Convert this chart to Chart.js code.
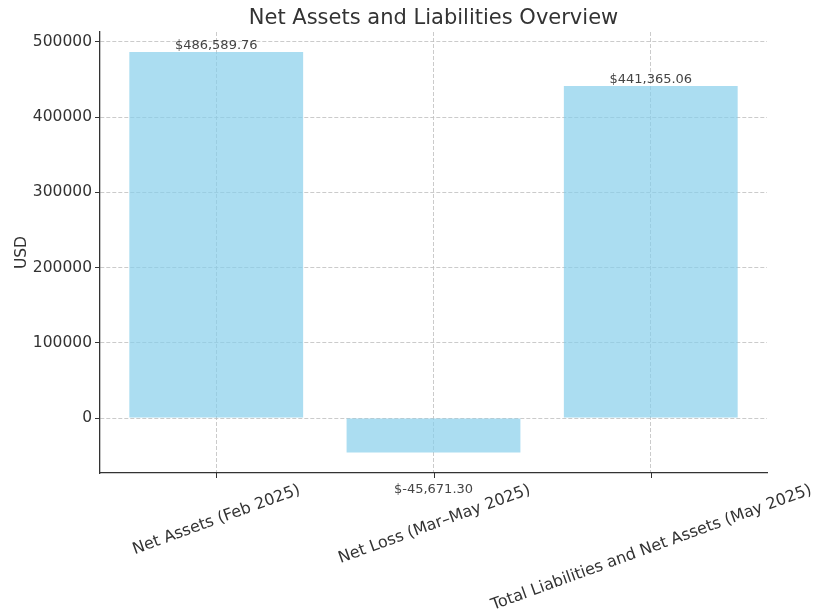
<!DOCTYPE html>
<html lang="en">
<head>
  <meta charset="UTF-8" />
  <title>Net Assets and Liabilities Overview</title>
  <script src="https://cdn.jsdelivr.net/npm/chart.js"></script>
  <style>
    html, body { margin: 0; padding: 0; background: #fff; }
    #wrap { width: 814px; height: 609px; }
  </style>
</head>
<body>
  <div id="wrap"><canvas id="chart" width="814" height="609"></canvas></div>

  <script>
    // Data
    const categories = ['Net Assets (Feb 2025)', 'Net Loss (Mar\u2013May 2025)', 'Total Liabilities and Net Assets (May 2025)'];
    const values = [486589.76, -45671.30, 441365.06];
    const yTicks = [0, 100000, 200000, 300000, 400000, 500000];

    const FONT = '"DejaVu Sans", sans-serif';
    const TEXT = '#333';

    const fmt = v => '$' + v.toLocaleString('en-US', { minimumFractionDigits: 2, maximumFractionDigits: 2 });

    // title, value labels, x tick marks and rotated category labels
    const annotate = {
      id: 'annotate',
      afterDatasetsDraw(chart) {
        const ctx = chart.ctx;
        const y = chart.scales.y;
        const meta = chart.getDatasetMeta(0);
        ctx.save();
        ctx.font = '13px ' + FONT;
        ctx.fillStyle = '#444';
        ctx.textAlign = 'center';
        meta.data.forEach((bar, i) => {
          const v = values[i];
          const py = y.getPixelForValue(v);
          if (v >= 0) {
            ctx.textBaseline = 'bottom';
            ctx.fillText(fmt(v), bar.x, py);
          } else {
            ctx.textBaseline = 'top';
            ctx.fillText(fmt(v), bar.x, py + 31);
          }
        });
        ctx.restore();
      },
      afterDraw(chart) {
        const ctx = chart.ctx;
        const area = chart.chartArea;
        const x = chart.scales.x;
        ctx.save();
        // title
        ctx.font = '21px ' + FONT;
        ctx.fillStyle = TEXT;
        ctx.textAlign = 'center';
        ctx.textBaseline = 'middle';
        ctx.fillText('Net Assets and Liabilities Overview', (area.left + area.right) / 2, 18.5);

        // tick marks and category labels, rotated 20 degrees and centred under each tick
        const size = 16;
        const a = 20 * Math.PI / 180;
        ctx.font = size + 'px ' + FONT;
        ctx.strokeStyle = TEXT;
        ctx.lineWidth = 1;
        categories.forEach((label, i) => {
          const px = Math.round(x.getPixelForValue(i)) + 0.5;
          ctx.beginPath();
          ctx.moveTo(px, area.bottom);
          ctx.lineTo(px, area.bottom + 5);
          ctx.stroke();
          const w = ctx.measureText(label).width;
          const h = size * 1.16;
          const H = w * Math.sin(a) + h * Math.cos(a);
          const cy = area.bottom + 5 + 3 + H / 2;
          ctx.save();
          ctx.translate(px, cy);
          ctx.rotate(-a);
          ctx.fillText(label, 0, 0);
          ctx.restore();
        });
        ctx.restore();
      }
    };

    new Chart(document.getElementById('chart'), {
      type: 'bar',
      data: {
        datasets: [{
          label: 'USD',
          data: values.map((v, i) => ({ x: i, y: v })),
          backgroundColor: 'rgba(135,206,235,0.7)',
          borderWidth: 0,
          barPercentage: 0.8,
          categoryPercentage: 1.0
        }]
      },
      options: {
        responsive: false,
        animation: false,
        layout: { padding: { left: 0, right: 47, top: 32, bottom: 136 } },
        plugins: {
          legend: { display: false },
          title: { display: false },
          tooltip: { enabled: false }
        },
        scales: {
          x: {
            type: 'linear',
            offset: false,
            min: -0.535,
            max: 2.535,
            afterBuildTicks: s => { s.ticks = categories.map((c, i) => ({ value: i })); },
            grid: {
              offset: false,
              color: 'rgba(190,190,190,0.8)',
              lineWidth: 1,
              drawTicks: false
            },
            border: { display: true, color: TEXT, width: 1.3, dash: [4, 2] },
            ticks: { display: false },
            afterFit: s => { s.height = 0; }
          },
          y: {
            min: -73000,
            max: 513000,
            afterBuildTicks: s => { s.ticks = yTicks.map(v => ({ value: v })); },
            ticks: {
              color: TEXT,
              font: { family: FONT, size: 15.5 },
              padding: 3,
              callback: v => String(v)
            },
            grid: {
              color: 'rgba(190,190,190,0.8)',
              lineWidth: 1,
              tickLength: 5,
              tickColor: TEXT,
              tickWidth: 1
            },
            border: { display: true, color: TEXT, width: 1.3, dash: [4, 2] },
            title: {
              display: true,
              text: 'USD',
              color: TEXT,
              font: { family: FONT, size: 15.5 },
              padding: { top: 13, bottom: 0 }
            },
            afterFit: s => { s.width = 100; }
          }
        }
      },
      plugins: [annotate]
    });
  </script>
</body>
</html>
